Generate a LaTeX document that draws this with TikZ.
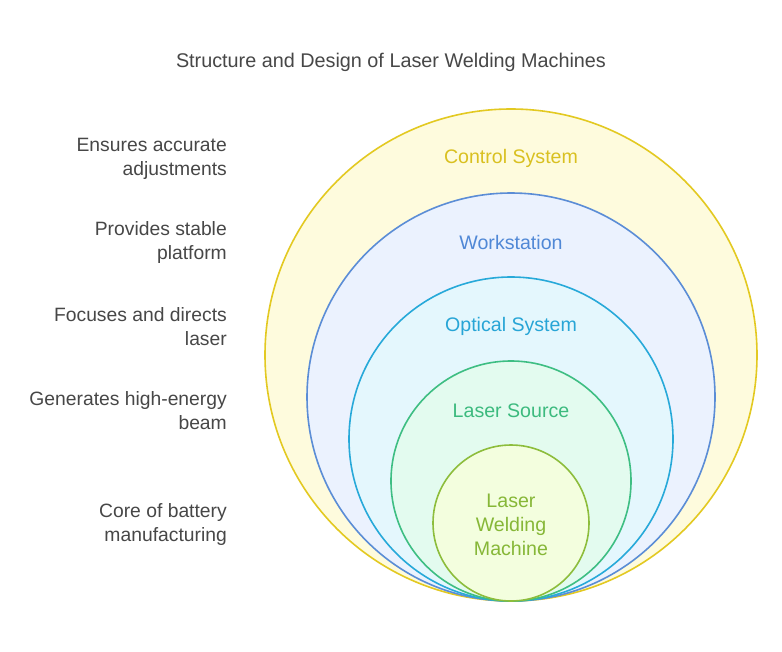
\documentclass[tikz,border=0pt]{standalone}
\usepackage{fontspec}
\setmainfont{Liberation Sans}
\begin{document}
\begin{tikzpicture}[x=1pt,y=-1pt,
  ring/.style={line width=1.6pt},
  clabel/.style={font=\fontsize{19.6}{24}\selectfont, align=center},
  side/.style={font=\fontsize{19.3}{24}\selectfont, align=right, text=black!72, anchor=east, inner sep=0pt}]
\definecolor{c1s}{HTML}{E3C921}\definecolor{c1f}{HTML}{FEFBDD}\definecolor{c1t}{HTML}{D9C020}
\definecolor{c2s}{HTML}{5B8DD6}\definecolor{c2f}{HTML}{EBF2FE}\definecolor{c2t}{HTML}{5088D6}
\definecolor{c3s}{HTML}{27A9D9}\definecolor{c3f}{HTML}{E4F7FD}\definecolor{c3t}{HTML}{27A5D6}
\definecolor{c4s}{HTML}{3EBE83}\definecolor{c4f}{HTML}{E3FBEF}\definecolor{c4t}{HTML}{3CBA7E}
\definecolor{c5s}{HTML}{8DBD3C}\definecolor{c5f}{HTML}{F3FEDE}\definecolor{c5t}{HTML}{86B737}
\useasboundingbox[fill=white] (0,0) rectangle (782,651);
\node[font=\fontsize{19.8}{24}\selectfont, text=black!72] (title) at (391,62) {Structure and Design of Laser Welding Machines};
\draw[ring, draw=c1s, fill=c1f] (511,355) circle (246);
\draw[ring, draw=c2s, fill=c2f] (511,397) circle (204);
\draw[ring, draw=c3s, fill=c3f] (511,439) circle (162);
\draw[ring, draw=c4s, fill=c4f] (511,481) circle (120);
\draw[ring, draw=c5s, fill=c5f] (511,523) circle (78);
\node[clabel, text=c1t] (l1) at (511,158.5) {Control System};
\node[clabel, text=c2t] (l2) at (511,242.5) {Workstation};
\node[clabel, text=c3t] (l3) at (511,326.5) {Optical System};
\node[clabel, text=c4t] (l4) at (511,410.5) {Laser Source};
\node[clabel, text=c5t] (l5) at (511,524.5) {Laser\\Welding\\Machine};
\node[side] (s1) at (227,158.5) {Ensures accurate\\adjustments};
\node[side] (s2) at (227,242.5) {Provides stable\\platform};
\node[side] (s3) at (227,326.5) {Focuses and directs\\laser};
\node[side] (s4) at (227,410.5) {Generates high-energy\\beam};
\node[side] (s5) at (227,524.5) {Core of battery\\manufacturing};
\end{tikzpicture}
\end{document}
